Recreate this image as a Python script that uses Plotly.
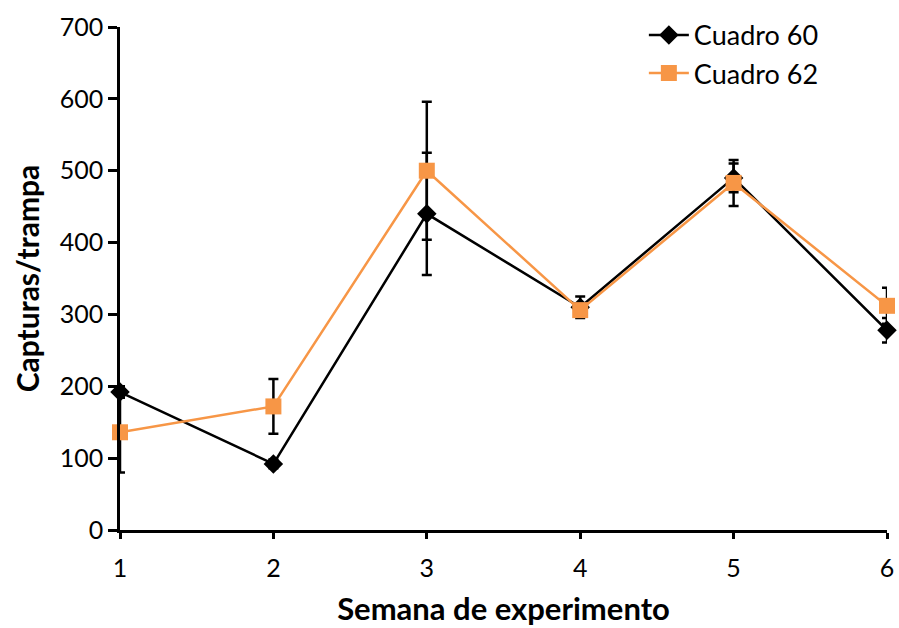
import plotly.graph_objects as go

weeks = [1, 2, 3, 4, 5, 6]
c60 = [192, 92, 440, 310, 490, 278]
c60_err = [8, 6, 85, 15, 20, 17]
c62 = [136, 172, 500, 306, 483, 312]
c62_err = [56, 38, 96, 8, 32, 25]

FONT = "Lato"

fig = go.Figure()
fig.add_trace(go.Scatter(
    x=weeks, y=c60, name="Cuadro 60", mode="lines+markers",
    line=dict(color="black", width=2.5),
    marker=dict(symbol="diamond", size=15, color="black"),
    error_y=dict(type="data", array=c60_err, visible=True, color="black", thickness=2.5, width=5),
    cliponaxis=False,
))
fig.add_trace(go.Scatter(
    x=weeks, y=c62, name="Cuadro 62", mode="lines+markers",
    line=dict(color="#F79646", width=2.5),
    marker=dict(symbol="square", size=16, color="#F79646"),
    error_y=dict(type="data", array=c62_err, visible=True, color="black", thickness=2.5, width=5),
    cliponaxis=False,
))

fig.update_layout(
    width=899, height=628,
    margin=dict(l=120, r=12, t=26, b=98),
    paper_bgcolor="white", plot_bgcolor="white",
    font=dict(family=FONT, size=25, color="black"),
    showlegend=True,
    legend=dict(x=0.683, y=1.03, xanchor="left", yanchor="top",
                font=dict(size=27), bgcolor="rgba(0,0,0,0)", tracegroupgap=0,
                itemwidth=40),
    xaxis=dict(range=[1, 6], tickvals=weeks, showgrid=False, zeroline=False,
               showline=True, linecolor="black", linewidth=2.5,
               ticks="outside", ticklen=6, tickwidth=2.5, tickcolor="black",
               tickfont=dict(size=25), ticklabelstandoff=8, automargin=False,
               title=dict(text="<b>Semana de experimento</b>", font=dict(size=31), standoff=18)),
    yaxis=dict(range=[0, 700], tickvals=[0, 100, 200, 300, 400, 500, 600, 700],
               showgrid=False, zeroline=False, automargin=False,
               showline=True, linecolor="black", linewidth=2.5,
               ticks="outside", ticklen=9, tickwidth=2.5, tickcolor="black",
               tickfont=dict(size=25),
               title=dict(text="<b>Capturas/trampa</b>", font=dict(size=30), standoff=12)),
)

fig.write_html("out.html")
